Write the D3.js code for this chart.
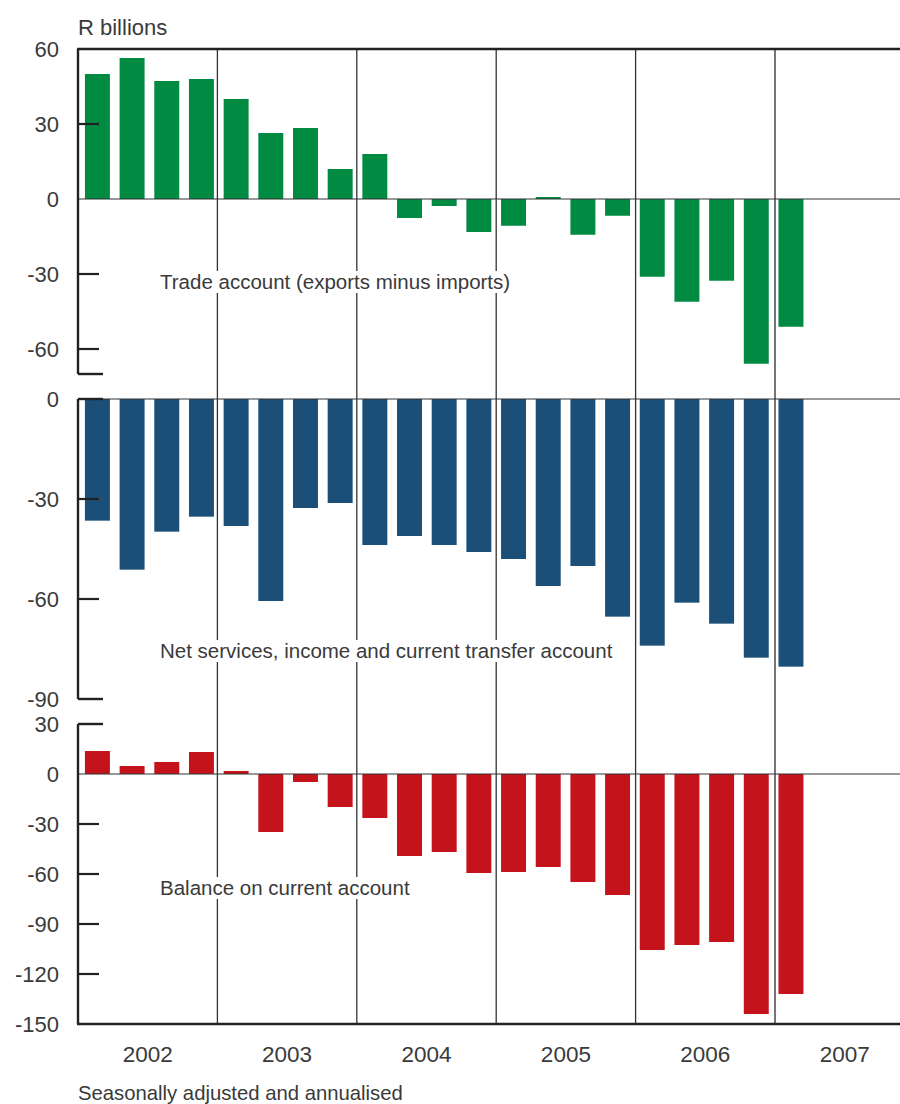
<!DOCTYPE html>
<html>
<head>
<meta charset="utf-8">
<script src="https://cdn.jsdelivr.net/npm/d3@7"></script>
<style>
  html, body { margin: 0; padding: 0; background: #fff; }
  svg { display: block; }
  text { font-family: "Liberation Sans", Arial, sans-serif; fill: #3a3a3a; }
</style>
</head>
<body>
<svg id="chart" width="900" height="1104"></svg>
<script>
// ---------- DATA ----------
const years = [2002, 2003, 2004, 2005, 2006, 2007];
const quarters = ["Q1", "Q2", "Q3", "Q4"];
const categories = years.flatMap(y => quarters.map(q => y + q)); // full x domain
const dataQuarters = categories.slice(0, 21); // 2002Q1 .. 2007Q1

const tradeAccount = [50, 56.4, 47.2, 48, 40, 26.4, 28.4, 12, 18, -7.6, -2.8, -13.2,
  -10.7, 0.8, -14.3, -6.7, -31.1, -41.1, -32.7, -65.9, -51.1];
const netServices = [-36.5, -51.2, -39.8, -35.3, -38.1, -60.6, -32.7, -31.2, -43.8, -41.1, -43.8, -45.9,
  -48, -56.1, -50.1, -65.3, -74, -61.1, -67.4, -77.6, -80.3];
const currentAccount = [13.8, 4.8, 7.2, 13.2, 1.8, -34.8, -4.8, -19.8, -26.4, -49.2, -46.8, -59.4,
  -58.8, -55.8, -64.8, -72.6, -105.6, -102.6, -100.8, -144, -132];

const ticks1 = [60, 30, 0, -30, -60];
const ticks2 = [0, -30, -60, -90];
const ticks3 = [30, 0, -30, -60, -90, -120, -150];

const panelTitles = ["Trade account (exports minus imports)",
  "Net services, income and current transfer account",
  "Balance on current account"];
const unitLabel = "R billions";
const noteLabel = "Seasonally adjusted and annualised";

// ---------- LAYOUT ----------
const svg = d3.select("#chart");
const left = 78, right = 900;
const yearWidth = 139.4;
const xEnd = left + yearWidth * years.length;

const x = d3.scaleBand().domain(categories).range([left, xEnd]).paddingInner(0.28).paddingOuter(0.2);
const xYear = d3.scaleBand().domain(years).range([left, xEnd]);

const panels = [
  { values: tradeAccount, color: "#008a42", y: d3.scaleLinear().domain([-70, 60]).range([374, 49]),
    ticks: ticks1, title: panelTitles[0], titleY: 289, top: 60, bottom: -70 },
  { values: netServices, color: "#1b4f78", y: d3.scaleLinear().domain([-90, 0]).range([699, 399]),
    ticks: ticks2, title: panelTitles[1], titleY: 658, top: 0, bottom: -90 },
  { values: currentAccount, color: "#c5131c", y: d3.scaleLinear().domain([-150, 30]).range([1024, 724]),
    ticks: ticks3, title: panelTitles[2], titleY: 895, top: 30, bottom: -150 }
];

const gridG = svg.append("g");
const barsG = svg.append("g");
const labelG = svg.append("g");
const axisG = svg.append("g");

panels.forEach((p, i) => {
  // bars
  barsG.selectAll(null).data(p.values).enter().append("rect")
    .attr("x", (d, j) => x(dataQuarters[j]))
    .attr("width", x.bandwidth())
    .attr("y", d => p.y(Math.max(0, d)))
    .attr("height", d => Math.abs(p.y(d) - p.y(0)))
    .attr("fill", p.color);

  // zero line
  axisG.append("line")
    .attr("x1", left).attr("x2", right)
    .attr("y1", p.y(0)).attr("y2", p.y(0))
    .attr("stroke", "#333").attr("stroke-width", 1.2);

  // left axis with inward ticks
  const ax = d3.axisLeft(p.y).tickValues(p.ticks).tickSize(0).tickPadding(19)
    .tickFormat(d => String(d));
  const g = axisG.append("g").attr("transform", `translate(${left},0)`).call(ax);
  g.select(".domain").remove();
  g.selectAll("text").attr("font-size", 22).attr("font-family", "Liberation Sans, Arial, sans-serif")
    .attr("fill", "#3a3a3a").attr("dy", "0.36em");
  g.append("line").attr("x1", 0).attr("x2", 0)
    .attr("y1", p.y(p.top)).attr("y2", p.y(p.bottom))
    .attr("stroke", "#222").attr("stroke-width", 2.4);
  g.selectAll(null).data(p.ticks.filter(t => t !== 0 && t !== p.top && t !== p.bottom))
    .enter().append("line")
    .attr("x1", 0).attr("x2", 21).attr("y1", d => p.y(d)).attr("y2", d => p.y(d))
    .attr("stroke", "#222").attr("stroke-width", 2.2);
  // caps
  if (i === 0) {
    g.append("line").attr("x1", 0).attr("x2", 25).attr("y1", p.y(p.bottom)).attr("y2", p.y(p.bottom))
      .attr("stroke", "#222").attr("stroke-width", 2.4);
  } else {
    g.append("line").attr("x1", 0).attr("x2", 25).attr("y1", p.y(p.top)).attr("y2", p.y(p.top))
      .attr("stroke", "#222").attr("stroke-width", 2.4);
    if (i === 1) {
      g.append("line").attr("x1", 0).attr("x2", 25).attr("y1", p.y(p.bottom)).attr("y2", p.y(p.bottom))
        .attr("stroke", "#222").attr("stroke-width", 2.4);
    }
  }

  // panel title with white background
  const t = labelG.append("text").attr("x", 160).attr("y", p.titleY)
    .attr("font-size", 20.5).text(p.title);
  const bb = t.node().getBBox();
  labelG.insert("rect", "text").attr("x", bb.x - 2).attr("y", bb.y + 1)
    .attr("width", bb.width + 4).attr("height", bb.height - 1).attr("fill", "#fff");
});

// year separators
gridG.selectAll(null).data(years.slice(1)).enter().append("line")
  .attr("x1", d => xYear(d)).attr("x2", d => xYear(d))
  .attr("y1", 49).attr("y2", 1024)
  .attr("stroke", (d) => d === 2007 ? "#666" : "#333").attr("stroke-width", d => d === 2007 ? 1.8 : 1.3);

// top border
axisG.append("line").attr("x1", left - 1).attr("x2", right).attr("y1", 49).attr("y2", 49)
  .attr("stroke", "#222").attr("stroke-width", 2.6);
// bottom axis
axisG.append("line").attr("x1", left - 1).attr("x2", right).attr("y1", 1024).attr("y2", 1024)
  .attr("stroke", "#222").attr("stroke-width", 2.6);

const xAxis = d3.axisBottom(xYear).tickSize(0).tickPadding(22);
const xg = axisG.append("g").attr("transform", "translate(0,1024)").call(xAxis);
xg.select(".domain").remove();
xg.selectAll("text").attr("font-size", 22.5).attr("font-family", "Liberation Sans, Arial, sans-serif")
  .attr("fill", "#3a3a3a");

// unit + note
svg.append("text").attr("x", 78).attr("y", 35).attr("font-size", 22).text(unitLabel);
svg.append("text").attr("x", 78).attr("y", 1100).attr("font-size", 20.3).text(noteLabel);
</script>
</body>
</html>
